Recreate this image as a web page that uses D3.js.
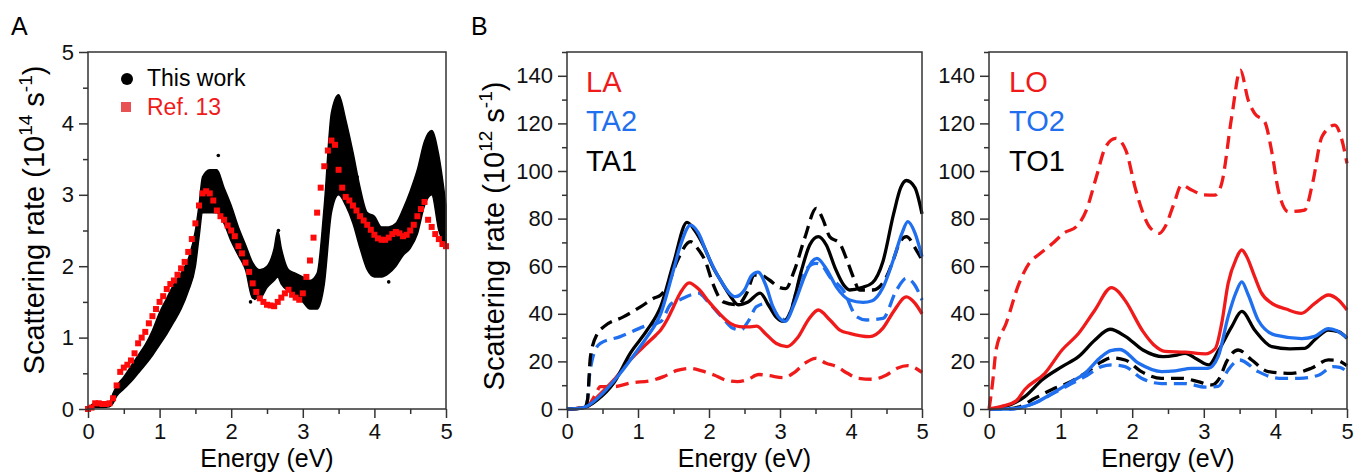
<!DOCTYPE html>
<html>
<head>
<meta charset="utf-8">
<script src="https://cdn.jsdelivr.net/npm/d3@7"></script>
<style>
  body { margin: 0; background: #fff; }
  svg { font-family: "Liberation Sans", Arial, Helvetica, sans-serif; }
</style>
</head>
<body>
<script>
// ---- data ----
// axis ticks
var energyTicks = [0, 1, 2, 3, 4, 5];
var energyMinor = [0.5, 1.5, 2.5, 3.5, 4.5];
var rateTicksA = [0, 1, 2, 3, 4, 5];
var rateMinorA = [0.5, 1.5, 2.5, 3.5, 4.5];
var rateTicksB = [0, 20, 40, 60, 80, 100, 120, 140];
var rateMinorB = [10, 30, 50, 70, 90, 110, 130, 150];

// panel A, "This work": dense point cloud, kept as its lower / upper envelope
var bandE  = [0.05,0.1,0.2,0.3,0.35,0.4,0.5,0.6,0.7,0.8,0.9,1.0,1.1,1.2,1.3,1.4,1.5,1.55,1.6,1.7,1.8,1.9,2.0,2.1,2.2,2.3,2.4,2.5,2.6,2.65,2.7,2.8,2.9,3.0,3.1,3.2,3.3,3.4,3.5,3.6,3.7,3.8,3.9,4.0,4.1,4.2,4.3,4.4,4.5,4.6,4.7,4.8,4.9,5.0];
var bandLo = [0.0,0.02,0.02,0.03,0.08,0.18,0.28,0.38,0.50,0.62,0.75,0.90,1.05,1.22,1.40,1.65,2.00,2.40,2.75,2.75,2.75,2.60,2.35,2.15,1.95,1.55,1.55,1.70,1.80,1.85,1.75,1.65,1.60,1.50,1.40,1.40,1.75,2.75,3.00,2.85,2.60,2.25,1.95,1.85,1.85,1.90,2.00,2.15,2.25,2.45,2.85,3.00,2.50,2.25];
var bandHi = [0.06,0.08,0.07,0.10,0.22,0.32,0.45,0.60,0.75,0.90,1.10,1.35,1.55,1.75,1.90,2.10,2.50,2.85,3.25,3.35,3.35,3.10,2.85,2.55,2.30,2.05,1.95,2.00,2.25,2.50,2.25,1.95,1.90,1.85,1.80,1.90,2.85,4.15,4.40,4.05,3.60,3.10,2.75,2.70,2.55,2.55,2.60,2.80,3.05,3.35,3.75,3.90,3.55,2.85];
var thisWorkStray = [[1.82,3.55],[2.27,1.5],[2.33,1.55],[3.03,1.66],[4.2,1.78],[3.76,3.25],[2.66,2.5]];

// panel A, Ref. 13
var ref13 = [[0,0],[0.05,0.02],[0.1,0.08],[0.15,0.08],[0.2,0.07],[0.25,0.07],[0.3,0.08],[0.35,0.15],[0.4,0.33],[0.45,0.52],[0.5,0.58],[0.55,0.62],[0.6,0.68],[0.65,0.78],[0.7,0.92],[0.75,1.0],[0.8,1.08],[0.85,1.2],[0.9,1.3],[0.95,1.4],[1.0,1.5],[1.05,1.58],[1.1,1.68],[1.15,1.75],[1.2,1.8],[1.25,1.88],[1.3,1.97],[1.35,2.06],[1.4,2.2],[1.45,2.38],[1.5,2.6],[1.55,2.85],[1.6,3.02],[1.65,3.05],[1.7,3.02],[1.75,2.92],[1.8,2.78],[1.85,2.7],[1.9,2.65],[1.95,2.57],[2.0,2.5],[2.05,2.42],[2.1,2.28],[2.15,2.18],[2.2,2.05],[2.25,1.92],[2.3,1.76],[2.35,1.64],[2.4,1.55],[2.45,1.5],[2.5,1.46],[2.55,1.45],[2.6,1.44],[2.65,1.5],[2.7,1.56],[2.75,1.62],[2.8,1.67],[2.85,1.6],[2.9,1.56],[2.95,1.53],[3.0,1.62],[3.05,1.85],[3.1,2.08],[3.15,2.4],[3.2,2.75],[3.25,3.1],[3.3,3.4],[3.35,3.62],[3.4,3.76],[3.45,3.7],[3.5,3.35],[3.55,3.1],[3.6,2.97],[3.65,2.92],[3.7,2.85],[3.75,2.78],[3.8,2.7],[3.85,2.64],[3.9,2.58],[3.95,2.51],[4.0,2.44],[4.05,2.39],[4.1,2.37],[4.15,2.37],[4.2,2.4],[4.25,2.45],[4.3,2.48],[4.35,2.46],[4.4,2.42],[4.45,2.44],[4.5,2.5],[4.55,2.58],[4.6,2.7],[4.65,2.8],[4.7,2.9],[4.75,2.65],[4.8,2.55],[4.85,2.45],[4.9,2.38],[4.95,2.31],[5.0,2.28]];

// panel B left: acoustic branches (solid and dashed)
var laSolid = [[0,0],[0.2,0.4],[0.3,1.2],[0.43,5.2],[0.66,12.2],[0.89,20.6],[1.13,27.6],[1.25,31],[1.32,33.2],[1.42,38],[1.5,43],[1.6,49],[1.72,53],[1.85,50.5],[2.0,45],[2.15,40],[2.3,36],[2.43,34.6],[2.55,34.5],[2.67,34.8],[2.8,31.5],[2.95,27.5],[3.1,26.2],[3.25,30],[3.4,37.5],[3.54,41.6],[3.7,37.5],[3.85,33],[3.98,31.8],[4.26,30.4],[4.45,34],[4.6,41],[4.78,47.1],[4.9,44.5],[5.0,40]];
var laDash = [[0,0],[0.2,0.4],[0.3,1.5],[0.4,6],[0.47,9.4],[0.66,9.4],[0.89,10.9],[1.22,12.2],[1.36,13.6],[1.55,16.2],[1.74,17.1],[1.9,16],[2.07,14.3],[2.25,12],[2.4,11.5],[2.55,12.5],[2.7,14.5],[2.85,14],[3.05,13.2],[3.2,15.3],[3.35,19.2],[3.5,21.3],[3.65,19.2],[3.8,17.8],[3.95,15],[4.1,12.9],[4.3,12.5],[4.5,14.3],[4.65,17.1],[4.8,18.2],[4.95,16.4],[5.0,15.4]];
var ta2Solid = [[0,0],[0.2,0.4],[0.3,1.5],[0.5,6.5],[0.75,15],[1.0,25],[1.13,30.4],[1.32,40.1],[1.5,58.4],[1.6,69],[1.74,77.3],[1.85,74],[1.97,65.4],[2.16,54.2],[2.37,47.2],[2.5,50],[2.6,56],[2.69,57.5],[2.8,52],[2.9,43],[3.07,36.8],[3.2,44],[3.35,56],[3.45,62],[3.52,63.3],[3.65,59],[3.8,51],[3.98,45.8],[4.17,44.8],[4.3,45.5],[4.45,51],[4.6,63],[4.72,74],[4.8,78.7],[4.9,74],[5.0,64]];
var ta2Dash = [[0,0],[0.25,0.4],[0.29,4],[0.31,12],[0.35,20],[0.38,23.4],[0.47,27.6],[0.75,30.4],[1.08,34.6],[1.32,36.7],[1.46,44],[1.6,46],[1.75,48],[1.85,48.7],[2.0,44.5],[2.2,38],[2.33,34],[2.45,33.2],[2.55,36.7],[2.67,43],[2.81,44.4],[2.99,38.8],[3.08,37.4],[3.3,55.7],[3.51,61.2],[3.6,60],[3.7,55.6],[3.89,49.9],[4.08,38.8],[4.22,37.4],[4.45,38.1],[4.64,49.9],[4.78,54.9],[4.9,52],[5.0,45.8]];
var ta1Solid = [[0,0],[0.2,0.4],[0.3,1.3],[0.43,3.9],[0.66,11],[0.89,23.4],[1.13,33.2],[1.32,43],[1.5,61.2],[1.69,78.4],[1.8,75],[1.93,68.2],[2.05,60],[2.16,54.2],[2.3,47.5],[2.41,43.8],[2.55,45],[2.72,48.7],[2.85,43],[2.95,38.5],[3.05,36.8],[3.15,41],[3.3,58],[3.42,69],[3.54,72.4],[3.65,69],[3.78,59],[3.9,52],[3.98,50],[4.15,51],[4.3,53],[4.45,62],[4.6,82],[4.7,93],[4.78,96],[4.9,93],[5.0,82]];
var ta1Dash = [[0,0],[0.25,0.5],[0.29,4],[0.33,22],[0.43,31.8],[0.52,34.6],[0.8,38.8],[1.04,43],[1.22,46.5],[1.32,47.9],[1.42,52],[1.55,62],[1.74,70.3],[1.85,67],[1.95,62],[2.05,53],[2.2,45],[2.4,43.8],[2.53,48.6],[2.64,56.3],[2.75,56],[2.85,54.2],[3.0,51],[3.08,50.6],[3.2,58],[3.35,72],[3.51,84.3],[3.6,80],[3.7,72.4],[3.84,69.6],[3.95,62],[4.03,55.6],[4.12,50],[4.31,50],[4.5,55.6],[4.6,63],[4.69,70.3],[4.78,72.4],[4.92,66.8],[5.0,62.6]];

// panel B right: optical branches
var loSolid = [[0,0],[0.2,1.3],[0.38,3.4],[0.5,8.2],[0.78,15],[1.02,24.8],[1.25,31.7],[1.48,41.6],[1.71,51],[1.8,49.5],[1.91,45.2],[2.15,32.6],[2.3,27],[2.46,24.2],[2.74,23.9],[3.02,23.2],[3.16,25.4],[3.25,36],[3.34,52.8],[3.45,63],[3.53,66.8],[3.6,64],[3.71,55.6],[3.8,49],[3.95,44.4],[4.15,42],[4.36,40.2],[4.55,44.4],[4.74,47.9],[4.88,45.8],[5.0,41.6]];
var loDash = [[0,0],[0.02,4],[0.05,11],[0.1,25],[0.24,36],[0.42,52.8],[0.56,61.2],[0.7,65],[0.89,69.6],[1.05,74],[1.22,76.6],[1.36,83.6],[1.5,97.6],[1.63,110.2],[1.77,113.7],[1.91,108.8],[2.05,92],[2.24,76.6],[2.38,73.8],[2.46,76.6],[2.58,86],[2.69,94.1],[2.83,92],[3.0,90],[3.16,89.9],[3.25,94.8],[3.39,122.8],[3.51,142.4],[3.62,129.8],[3.71,124.2],[3.85,120.7],[3.95,108],[4.04,92],[4.18,82.9],[4.41,83.6],[4.52,95],[4.65,114.4],[4.83,119.3],[4.92,114],[5.0,103.2]];
var to2Solid = [[0,0],[0.3,0],[0.41,0.4],[0.64,2.5],[0.88,6.5],[1.11,10.7],[1.34,15],[1.57,22],[1.7,24.5],[1.83,25],[2.09,19.2],[2.41,15.7],[2.6,16],[2.83,17.1],[3.06,17.1],[3.2,22],[3.34,38.8],[3.45,49],[3.53,53.4],[3.62,48],[3.76,37.3],[4.0,31],[4.37,29.6],[4.55,30.5],[4.74,33.8],[4.85,33],[5.0,30]];
var to2Dash = [[0,0],[0.3,0],[0.45,0.6],[0.64,2.5],[0.88,6.3],[1.11,10],[1.34,13.6],[1.57,17.8],[1.71,18.5],[1.9,17.8],[2.13,12.9],[2.41,10.7],[2.74,10.7],[3.02,9.2],[3.2,9.5],[3.34,16.4],[3.5,20.6],[3.76,15.7],[4.05,12.9],[4.33,12.9],[4.61,14.3],[4.8,17.8],[4.9,17.5],[5.0,15.7]];
var to1Solid = [[0,0],[0.2,0.8],[0.5,5.2],[0.74,12.2],[1.02,17.8],[1.25,22],[1.48,29],[1.69,33.5],[1.91,30.4],[2.15,24.8],[2.43,22],[2.6,22.5],[2.74,23.4],[2.9,21],[3.07,18.5],[3.21,24.8],[3.39,34.6],[3.53,41],[3.71,33.2],[3.95,26.2],[4.2,25.3],[4.41,25.5],[4.55,29.1],[4.74,33.2],[4.88,32.5],[5.0,29.7]];
var to1Dash = [[0,0],[0.3,0.2],[0.41,0.8],[0.64,4.5],[0.88,8.2],[1.11,11],[1.34,15],[1.57,19.8],[1.71,21.5],[1.9,20.6],[2.13,15.7],[2.41,12.9],[2.69,12.9],[2.92,11.5],[3.11,10.1],[3.22,13],[3.32,20],[3.48,24.8],[3.67,20.6],[3.9,15.7],[4.23,15],[4.5,17.1],[4.74,20.6],[4.85,20.5],[5.0,18.2]];

var RED = "#f01a1a";
var BLUE = "#1f6fee";
var BLACK = "#000";

// ---- canvas ----
var svg = d3.select("body")
    .append("svg")
    .attr("width", 1355)
    .attr("height", 473);

var plotTop = 52, plotBottom = 409;

// draw ticks, labels and box for one panel
function drawAxes(x, y, yMajor, yMinor) {
    var bottomAxis = svg.append("g")
        .attr("transform", `translate(0, ${plotBottom})`)
        .call(d3.axisBottom(x).tickValues(energyTicks).tickSize(9).tickPadding(5).tickFormat(d3.format("d")));
    svg.append("g")
        .attr("transform", `translate(0, ${plotBottom})`)
        .call(d3.axisBottom(x).tickValues(energyMinor).tickSize(5).tickFormat(""));
    var leftAxis = svg.append("g")
        .attr("transform", `translate(${x.range()[0]}, 0)`)
        .call(d3.axisLeft(y).tickValues(yMajor).tickSize(9).tickPadding(5).tickFormat(d3.format("d")));
    svg.append("g")
        .attr("transform", `translate(${x.range()[0]}, 0)`)
        .call(d3.axisLeft(y).tickValues(yMinor).tickSize(5).tickFormat(""));

    svg.selectAll(".domain").remove();
    svg.selectAll(".tick line").attr("stroke", "#333").attr("stroke-width", 1.5);
    [bottomAxis, leftAxis].forEach(function(g) {
        g.attr("font-family", null).attr("font-size", 22);
        g.selectAll("text").attr("fill", "#111");
    });

    svg.append("rect")
        .attr("x", x.range()[0])
        .attr("y", plotTop)
        .attr("width", x.range()[1] - x.range()[0])
        .attr("height", plotBottom - plotTop)
        .attr("fill", "none")
        .attr("stroke", "#333")
        .attr("stroke-width", 1.5);

    svg.append("text")
        .attr("x", (x.range()[0] + x.range()[1]) / 2)
        .attr("y", 467)
        .attr("text-anchor", "middle")
        .attr("font-size", 25)
        .text("Energy (eV)");
}

function yTitle(cx, cy, exp) {
    var t = svg.append("text")
        .attr("transform", `translate(${cx}, ${cy}) rotate(-90)`)
        .attr("text-anchor", "middle")
        .attr("font-size", 29);
    t.append("tspan").text("Scattering rate (10");
    t.append("tspan").attr("font-size", 19).attr("dy", -12).text(exp);
    t.append("tspan").attr("dy", 12).text(" s");
    t.append("tspan").attr("font-size", 19).attr("dy", -12).text("-1");
    t.append("tspan").attr("dy", 12).text(")");
}

// ---- panel A ----
var xA = d3.scaleLinear().domain([0, 5]).range([88, 446]);
var yA = d3.scaleLinear().domain([0, 5]).range([plotBottom, plotTop]);

var band = bandE.map(function(e, i) { return { e: e, lo: bandLo[i], hi: bandHi[i] }; });
svg.append("path")
    .datum(band)
    .attr("fill", BLACK)
    .attr("stroke", BLACK)
    .attr("stroke-width", 1.5)
    .attr("d", d3.area()
        .x(d => xA(d.e))
        .y0(d => yA(d.lo))
        .y1(d => yA(d.hi))
        .curve(d3.curveMonotoneX));

svg.selectAll(".stray")
    .data(thisWorkStray)
    .enter()
    .append("circle")
    .attr("cx", d => xA(d[0]))
    .attr("cy", d => yA(d[1]))
    .attr("r", 1.8)
    .attr("fill", BLACK);

svg.selectAll(".ref13")
    .data(ref13)
    .enter()
    .append("rect")
    .attr("x", d => xA(d[0]) - 3)
    .attr("y", d => yA(d[1]) - 3)
    .attr("width", 6)
    .attr("height", 6)
    .attr("fill", "#ff0a0a");

drawAxes(xA, yA, rateTicksA, rateMinorA);
yTitle(44, 220, "14");

// legend A
svg.append("circle").attr("cx", 127).attr("cy", 79).attr("r", 6).attr("fill", BLACK);
svg.append("text").attr("x", 147).attr("y", 86).attr("font-size", 23).text("This work");
svg.append("rect").attr("x", 121).attr("y", 102).attr("width", 10).attr("height", 10).attr("fill", "#e85252");
svg.append("text").attr("x", 147).attr("y", 115).attr("font-size", 23).attr("fill", RED).text("Ref. 13");

svg.append("text").attr("x", 11).attr("y", 35).attr("font-size", 25).text("A");
svg.append("text").attr("x", 471).attr("y", 35).attr("font-size", 25).text("B");

// ---- panel B ----
var yB = d3.scaleLinear().domain([0, 150]).range([plotBottom, plotTop]);
var xB1 = d3.scaleLinear().domain([0, 5]).range([567, 922]);
var xB2 = d3.scaleLinear().domain([0, 5]).range([989, 1347]);

function drawCurve(x, data, color, dashed) {
    svg.append("path")
        .datum(data)
        .attr("fill", "none")
        .attr("stroke", color)
        .attr("stroke-width", 3.3)
        .attr("stroke-linecap", "butt")
        .attr("stroke-dasharray", dashed ? "13,7" : null)
        .attr("d", d3.line()
            .x(d => x(d[0]))
            .y(d => yB(d[1]))
            .curve(d3.curveMonotoneX));
}

// left: acoustic
drawCurve(xB1, laDash, RED, true);
drawCurve(xB1, ta2Dash, BLUE, true);
drawCurve(xB1, ta1Dash, BLACK, true);
drawCurve(xB1, laSolid, RED, false);
drawCurve(xB1, ta1Solid, BLACK, false);
drawCurve(xB1, ta2Solid, BLUE, false);
drawAxes(xB1, yB, rateTicksB, rateMinorB);
yTitle(504, 236, "12");

// right: optical
drawCurve(xB2, loDash, RED, true);
drawCurve(xB2, to1Dash, BLACK, true);
drawCurve(xB2, to2Dash, BLUE, true);
drawCurve(xB2, to1Solid, BLACK, false);
drawCurve(xB2, to2Solid, BLUE, false);
drawCurve(xB2, loSolid, RED, false);
drawAxes(xB2, yB, rateTicksB, rateMinorB);

// branch legends
var legendLeft = [["LA", RED], ["TA2", BLUE], ["TA1", BLACK]];
var legendRight = [["LO", RED], ["TO2", BLUE], ["TO1", BLACK]];
var legendY = [92, 131, 171];
legendLeft.forEach(function(d, i) {
    svg.append("text").attr("x", 586).attr("y", legendY[i]).attr("font-size", 29).attr("fill", d[1]).text(d[0]);
});
legendRight.forEach(function(d, i) {
    svg.append("text").attr("x", 1009).attr("y", legendY[i]).attr("font-size", 29).attr("fill", d[1]).text(d[0]);
});
</script>
</body>
</html>
